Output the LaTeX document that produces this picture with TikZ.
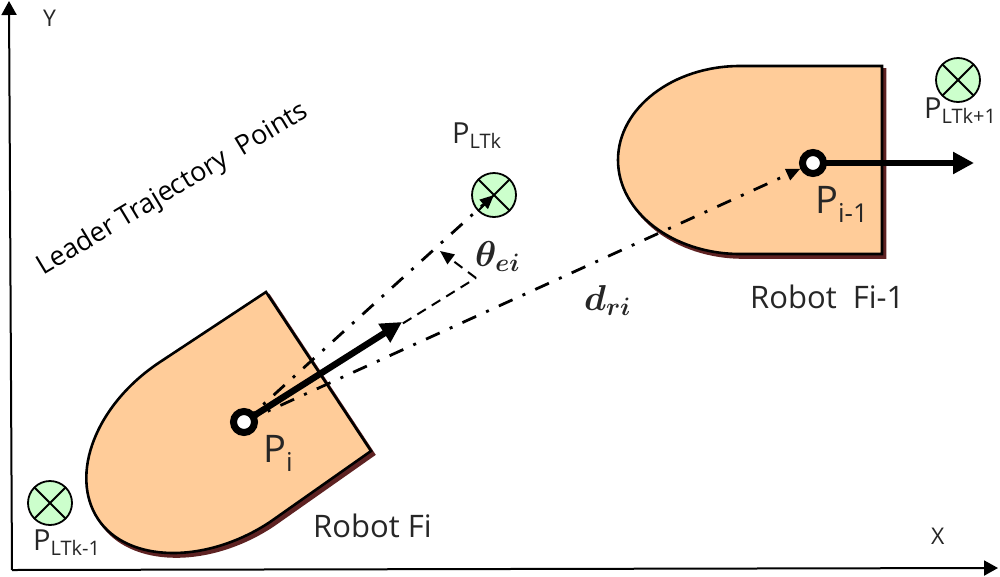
\RequirePackage{fix-cm}
\documentclass[tikz,border=0pt]{standalone}
\usepackage{amsmath,bm}
\usepackage{fontspec}
\setmainfont{Open Sans}
\usetikzlibrary{arrows.meta}
\definecolor{robotfill}{HTML}{FFCC99}
\definecolor{robotshadow}{HTML}{5E2222}
\definecolor{targetfill}{HTML}{CCFFCC}
\definecolor{inktext}{HTML}{262626}
\newcommand{\sz}[1]{\fontsize{#1}{#1}\selectfont}
\newcommand{\leftrobot}{(266,292) -- (371,451) -- (270,522) .. controls (205.5,564.6) and (127,563) .. (98,519) .. controls (69,475) and (95.5,404.6) .. (160,362) -- cycle}
\newcommand{\rightrobot}{(882,66) -- (882,254) -- (740,254) .. controls (673,254) and (618,212) .. (618,160) .. controls (618,108) and (673,66) .. (740,66) -- cycle}
\tikzset{
  robot/.style={fill=robotfill,draw=black,line width=2.6pt,line join=miter},
  shadow/.style={fill=robotshadow,draw=robotshadow,line width=2.6pt,shift={(3,3.5)}},
  target/.style={circle,draw=black,fill=targetfill,line width=1.8pt,minimum size=44pt,inner sep=0pt,
    path picture={\draw[line width=1.8pt] (path picture bounding box.north west)--(path picture bounding box.south east)
      (path picture bounding box.north east)--(path picture bounding box.south west);}},
  ring/.style={circle,draw=black,fill=white,line width=7pt,minimum size=21pt,inner sep=0pt},
  heavy/.style={line width=6.5pt,-{Triangle[length=21pt,width=21pt]}},
  axis/.style={line width=2pt,-{Triangle[length=14pt,width=15pt]}},
  dashdot/.style={line width=2.8pt,dash pattern=on 15pt off 11pt on 3pt off 11pt},
  dashplain/.style={line width=2pt,dash pattern=on 10pt off 7pt},
  tip/.style={-{Triangle[length=14pt,width=12pt]}},
  lbl/.style={inner sep=0pt,text=inktext},
}
\begin{document}
\begin{tikzpicture}[x=1pt,y=-1pt]
\useasboundingbox (0,0) rectangle (1000,576);
\fill[white] (0,0) rectangle (1000,576);
\coordinate (o) at (12,570);
\coordinate (yend) at (9,1);
\coordinate (xend) at (998,568);
\draw[axis] (o) -- (yend);
\draw[axis] (o) -- (xend);
\draw[shadow] \leftrobot;
\draw[robot] \leftrobot;
\draw[shadow] \rightrobot;
\draw[robot] \rightrobot;
\node[target] (k0) at (50,503) {};
\node[target] (k1) at (494,195) {};
\node[target] (k2) at (958,80) {};
\coordinate (pic) at (244,422);
\coordinate (ric) at (813,163);
\coordinate (hd) at (402,322);
\coordinate (hr) at (974,163);
\coordinate (de) at (476,278);
\coordinate (dt) at (440,251);
\draw[dashdot,tip] (pic) -- (k1.center);
\draw[dashplain] (pic) -- (de);
\draw[dashplain,tip] (de) -- (dt);
\node[ring,draw=none,fill=none] (rib) at (ric) {};
\draw[dashdot,tip] (pic) -- (rib);
\draw[heavy] (pic) -- (hd);
\draw[heavy] (ric) -- (hr);
\node[ring] (pi) at (pic) {};
\node[ring] (ri) at (ric) {};
\node[lbl,anchor=base west] at (263,462) {\sz{38}P\raisebox{-9pt}{\sz{26}i}};
\node[lbl,anchor=base west] at (815,213) {\sz{38}P\raisebox{-9pt}{\sz{26}i-1}};
\node[lbl,anchor=base west] at (313,537) {\sz{31}Robot Fi};
\node[lbl,anchor=base west] at (750,308) {\sz{31}Robot\ \ Fi-1};
\node[lbl,anchor=base west] at (33,550) {\sz{29}P\raisebox{-5pt}{\sz{20}LTk-1}};
\node[lbl,anchor=base west] at (452,143) {\sz{29}P\raisebox{-5pt}{\sz{20}LTk}};
\node[lbl,anchor=base west] at (924,118) {\sz{29}P\raisebox{-5pt}{\sz{20}LTk+1}};
\node[lbl,anchor=base west] at (475,266) {\sz{36}$\bm{\theta_{ei}}$};
\node[lbl,anchor=base west] at (584,310) {\sz{36}$\bm{d_{ri}}$};
\node[lbl,anchor=base west] at (43,26) {\sz{23}Y};
\node[lbl,anchor=base west] at (931,544) {\sz{23}X};
\node[lbl,anchor=base west,rotate=31,text=black] at (43,276) {\sz{27}Leader Trajectory\ \ Points};
\end{tikzpicture}
\end{document}
